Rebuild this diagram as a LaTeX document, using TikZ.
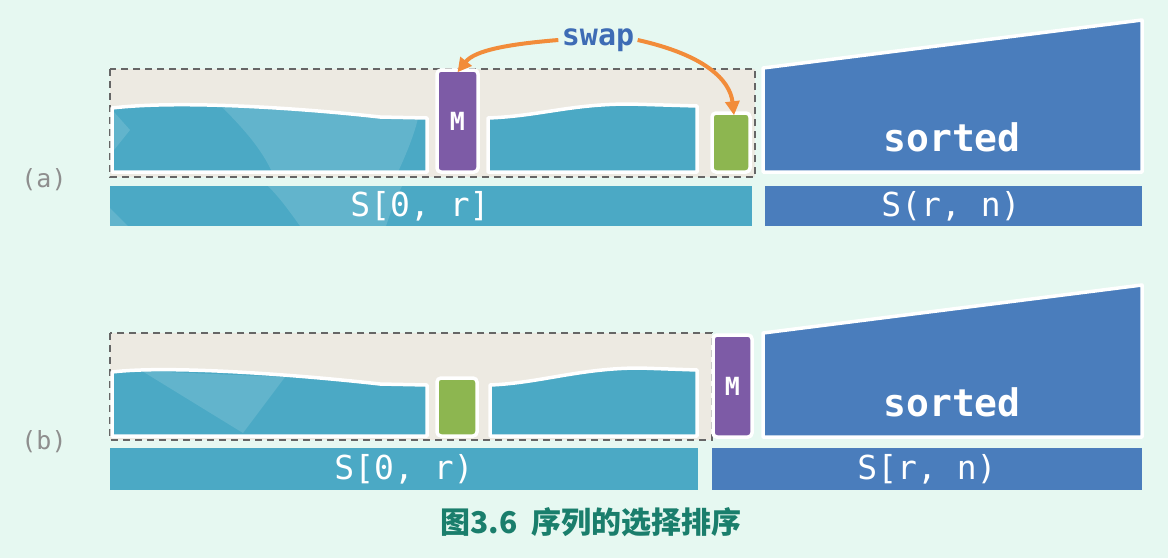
\documentclass[tikz,border=0pt]{standalone}
\usepackage{fontspec}
\newfontfamily\monof{DejaVu Sans Mono}
\newfontfamily\cjk{Noto Sans CJK SC}
\usetikzlibrary{arrows.meta}
\definecolor{bgc}{HTML}{E6F8F1}
\definecolor{beigec}{HTML}{EDEAE2}
\definecolor{tealc}{HTML}{4BA9C5}
\definecolor{dbluec}{HTML}{4A7DBC}
\definecolor{purplec}{HTML}{7D5BA6}
\definecolor{greenc}{HTML}{8DB650}
\definecolor{orangec}{HTML}{F28C3A}
\definecolor{swapc}{HTML}{3E6CB5}
\definecolor{capc}{HTML}{1A7E6C}
\definecolor{grayc}{HTML}{8E8E8E}
\tikzset{
  dashbox/.style={draw=black!60, dashed, dash pattern=on 7pt off 5pt, line width=1.6pt, fill=beigec},
  wavebox/.style={draw=white, line width=3.5pt, fill=tealc, line join=round},
  sortbox/.style={draw=white, line width=3.5pt, fill=dbluec, line join=round},
  mbox/.style={draw=white, line width=3.5pt, fill=purplec, rounded corners=4pt, inner sep=0pt, text=white, font=\monof\bfseries\fontsize{25}{28}\selectfont},
  gbox/.style={draw=white, line width=3.5pt, fill=greenc, rounded corners=4pt, inner sep=0pt},
  barlabel/.style={text=white, font=\monof\fontsize{33}{36}\selectfont},
  sortlabel/.style={text=white, font=\monof\bfseries\fontsize{38}{40}\selectfont},
  rowlabel/.style={text=grayc, font=\monof\fontsize{25}{28}\selectfont},
  swaparrow/.style={draw=orangec, line width=4pt, -{Triangle[length=14pt,width=14pt]}},
  texture/.style={fill=white, fill opacity=0.13},
}
\begin{document}
\begin{tikzpicture}[x=1pt,y=-1pt]
\fill[bgc] (0,0) rectangle (1168,558);
\useasboundingbox (0,0) rectangle (1168,558);

% ---------- row (a) ----------
\draw[dashbox] (110,69) rectangle (755,177);
\draw[wavebox] (112,172) -- (112,108) .. controls (180,100) and (300,108) .. (380,117) -- (427,118) -- (427,172) -- cycle;
\fill[texture] (222,107) .. controls (245,130) and (262,150) .. (272,172) -- (398,172) .. controls (408,150) and (415,132) .. (418,118) -- (380,117) .. controls (320,110) and (270,106) .. cycle;
\fill[texture] (114,112) -- (130,130) -- (114,150) -- cycle;
\draw[wavebox] (488,172) -- (488,118) .. controls (540,116) and (570,104) .. (630,104) -- (697,106) -- (697,172) -- cycle;
\node[mbox, minimum width=41pt, minimum height=102pt] (Ma) at (457.5,121) {M};
\node[gbox, minimum width=38pt, minimum height=59pt] (Ga) at (731,142.5) {};
\draw[sortbox] (763,172) -- (763,68) -- (1142,20) -- (1142,172) -- cycle;
\node[sortlabel] (sorta) at (952,137) {sorted};
\fill[tealc] (110,186) rectangle (752,226);
\fill[texture] (268,186) -- (402,186) .. controls (395,200) and (390,214) .. (386,226) -- (300,226) .. controls (290,212) and (280,198) .. cycle;
\fill[texture] (110,208) -- (128,226) -- (110,226) -- cycle;
\node[barlabel] (la) at (420,206) {S[0, r]};
\fill[dbluec] (765,186) rectangle (1142,226);
\node[barlabel] (ra) at (951,206) {S(r, n)};
\node[rowlabel] (rowa) at (44,180) {(a)};
\node[text=swapc, font=\monof\bfseries\fontsize{30}{34}\selectfont] (swap) at (598,40) {swap};
\draw[swaparrow] (swap.west) .. controls (510,44) and (475,50) .. ([yshift=-4pt]Ma.north);
\draw[swaparrow] (swap.east) .. controls (705,55) and (730,80) .. ([xshift=3pt,yshift=-4pt]Ga.north);

% ---------- row (b) ----------
\draw[dashbox] (110,333) rectangle (712,440);
\draw[wavebox] (112,436) -- (112,372) .. controls (170,365) and (300,375) .. (380,384) -- (427,385) -- (427,436) -- cycle;
\fill[texture] (142,371) -- (285,377) -- (243,433) -- cycle;
\node[gbox, minimum width=40pt, minimum height=58pt] (Gb) at (457,407) {};
\draw[wavebox] (490,436) -- (490,385) .. controls (540,383) and (580,368) .. (640,368) -- (697,370) -- (697,436) -- cycle;
\node[mbox, minimum width=39pt, minimum height=102pt] (Mb) at (732.5,386) {M};
\draw[sortbox] (763,437) -- (763,333) -- (1142,285) -- (1142,437) -- cycle;
\node[sortlabel] (sortb) at (952,402) {sorted};
\fill[tealc] (110,448) rectangle (698,490);
\node[barlabel] (lb) at (404,469) {S[0, r)};
\fill[dbluec] (712,448) rectangle (1142,490);
\node[barlabel] (rb) at (927,469) {S[r, n)};
\node[rowlabel] (rowb) at (44,442) {(b)};

% caption
\node[text=capc, font=\cjk\bfseries\fontsize{30}{32}\selectfont] (cap) at (591,522) {图3.6\ \ 序列的选择排序};
\end{tikzpicture}
\end{document}
